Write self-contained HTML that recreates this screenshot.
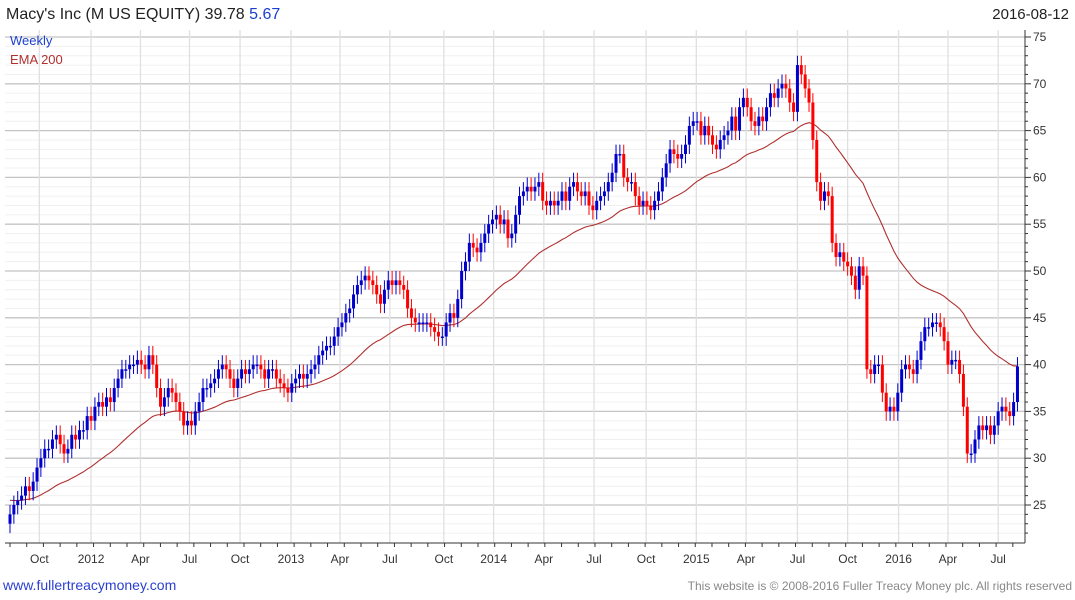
<!DOCTYPE html>
<html><head><meta charset="utf-8"><style>
body{margin:0;background:#fff;font-family:"Liberation Sans",sans-serif}
#wrap{position:relative;width:1075px;height:600px;overflow:hidden}
</style></head><body>
<div id="wrap">
<svg id="svg" width="1075" height="600" xmlns="http://www.w3.org/2000/svg">
<text x="6" y="19" font-size="16" fill="#222">Macy's Inc (M US EQUITY) 39.78 <tspan fill="#1a3fd0">5.67</tspan></text>
<text x="1069" y="19" font-size="15" fill="#222" text-anchor="end">2016-08-12</text>
<g id="grid"></g><g id="ema"></g><g id="candles"></g><g id="axes"></g>
<text x="10" y="45" font-size="13" fill="#1a3fd0">Weekly</text>
<text x="10" y="64" font-size="13" fill="#b03030">EMA 200</text>
<text x="3" y="590" font-size="14" fill="#2a3fd0">www.fullertreacymoney.com</text>
<text x="1072" y="590" font-size="12" fill="#888" text-anchor="end">This website is © 2008-2016 Fuller Treacy Money plc. All rights reserved</text>
</svg></div>
<script>
const closes=[24,25,25.5,26,27,26.5,27.5,29,30,31,31,32,32.5,31.5,30.5,31,32.5,32,33,33,34.5,34,35.5,36,35.5,36.5,36,37.5,38.5,39.5,39.5,40,40,40.5,40,39.5,41,40,37.5,35.5,36.5,37.5,37,36,35,33.5,34,33.5,35,36,37.5,37.5,38,38.5,39.5,40,39.5,38.5,37.5,38.5,39.5,39,39.5,40,40,39.5,38.5,39.5,39.5,38.5,38,37.5,37,38,38.5,39,38.5,39,39.5,40,41,41.5,42,42,43,44,44.5,45.5,46,47.5,48.5,49,49.5,49,48.5,47.5,46.5,48,49,48.5,49,48.5,48,46,45,44.5,44.5,44.5,44.5,44,43.5,43,43,44.5,45.5,45,47,50,51,53,52.5,52,53,54,55,55.5,56,55,55.5,53.5,54,56,58,58.5,59,58.5,59,59.5,57.5,57,57.5,57,57.5,58.5,57.5,59,59.5,58.5,58,58.5,57,56.5,57.5,58,58.5,59.5,60.5,62.5,62.5,60,59.5,59.5,58,57,57.5,57,56.5,57.5,58.5,60,61.5,63,62.5,62,62.5,63.5,65.5,66,66,64.5,65.5,64.5,63.5,63,64,64.5,65,66.5,65,67.5,68.5,67.5,66,65.5,66.5,66,67.5,69,68.5,69.5,70,69.5,68,67,72,71,69.5,68,64,59.5,57.5,58.5,58,53,51.5,52,51,50.5,49.5,48,50.5,49.5,39.5,39,40,40,37,35,35.5,35,37,39.5,40,39.5,39,40.5,42.5,44,44,44.5,44.5,44,42.5,40,40.5,40.5,39,35.5,30.5,30.5,32,33.5,33,33.5,32.5,33.5,35,35.5,35,34.5,36,39.8];
const yTicks=[25,30,35,40,45,50,55,60,65,70,75];
const xLabels=["Oct","2012","Apr","Jul","Oct","2013","Apr","Jul","Oct","2014","Apr","Jul","Oct","2015","Apr","Jul","Oct","2016","Apr","Jul"];
const xLabelWeeks=[7.6,21,33.8,46.5,59.6,72.8,85.5,98.4,112.4,125.3,138.3,151.3,164.8,177.8,190.7,204,217,230.2,243,256];
const NS="http://www.w3.org/2000/svg";
const L=5,R=1025,T=30,B=543;
const X0=10,DX=3.86;
function xs(i){return X0+DX*i;}
function ys(v){return 37+(75-v)*9.36;}
function mk(tag,attrs,parent){const e=document.createElementNS(NS,tag);for(const k in attrs)e.setAttribute(k,attrs[k]);parent.appendChild(e);return e;}
const grid=document.getElementById('grid'),axes=document.getElementById('axes'),cg=document.getElementById('candles'),eg=document.getElementById('ema');
for(let v=22;v<=75;v++){const y=ys(v);if(y<T||y>B)continue;const major=v%5===0;
const ln=mk('line',{x1:L,x2:R,y1:y,y2:y,stroke:major?'#c4c4c4':'#f0f0f0','stroke-width':major?1.3:1},grid);


const tk=mk('line',{x1:R,x2:R+(major?6:3),y1:y,y2:y,stroke:'#333'},axes);

}
yTicks.forEach(v=>{const t=mk('text',{x:1033,y:ys(v)+4,'font-size':12,fill:'#333'},axes);t.textContent=v;

});
xLabels.forEach((s,k)=>{const x=xs(xLabelWeeks[k]);
const g=mk('line',{x1:x,x2:x,y1:T,y2:B,stroke:'#e0e0e0','stroke-width':1.3},grid);


const t=mk('text',{x:x,y:563,'font-size':12,fill:'#333','text-anchor':'middle'},axes);t.textContent=s;

});
for(let w=0;w<262;w+=4.33){const x=xs(w);const tk=mk('line',{x1:x,x2:x,y1:B,y2:B+4,stroke:'#333'},axes);

}
const ax1=mk('line',{x1:R,x2:R,y1:T,y2:B,stroke:'#333'},axes);


const ax2=mk('line',{x1:L,x2:R,y1:B,y2:B,stroke:'#333'},axes);


let e=25.5,pts=[];const a=2/41;
closes.forEach((c,i)=>{e=i===0?25.5:e+a*(c-e);pts.push(xs(i).toFixed(1)+','+ys(e).toFixed(1));});
const pl=mk('polyline',{points:pts.join(' '),fill:'none',stroke:'#b03030','stroke-width':1.1},eg);


closes.forEach((c,i)=>{const o=i===0?23:closes[i-1];const hi=Math.max(o,c)+1.0,lo=Math.min(o,c)-1.0;
const col=c>=o?'#0000cc':'#ff0000';const x=xs(i);
const g=mk('g',{},cg);


mk('line',{x1:x,x2:x,y1:ys(hi),y2:ys(lo),stroke:col,'stroke-width':1},g);
const top=ys(Math.max(o,c)),h=Math.max(1.5,ys(Math.min(o,c))-top);
mk('rect',{x:x-1.5,y:top,width:3,height:h,fill:col},g);});
</script>
</body></html>
